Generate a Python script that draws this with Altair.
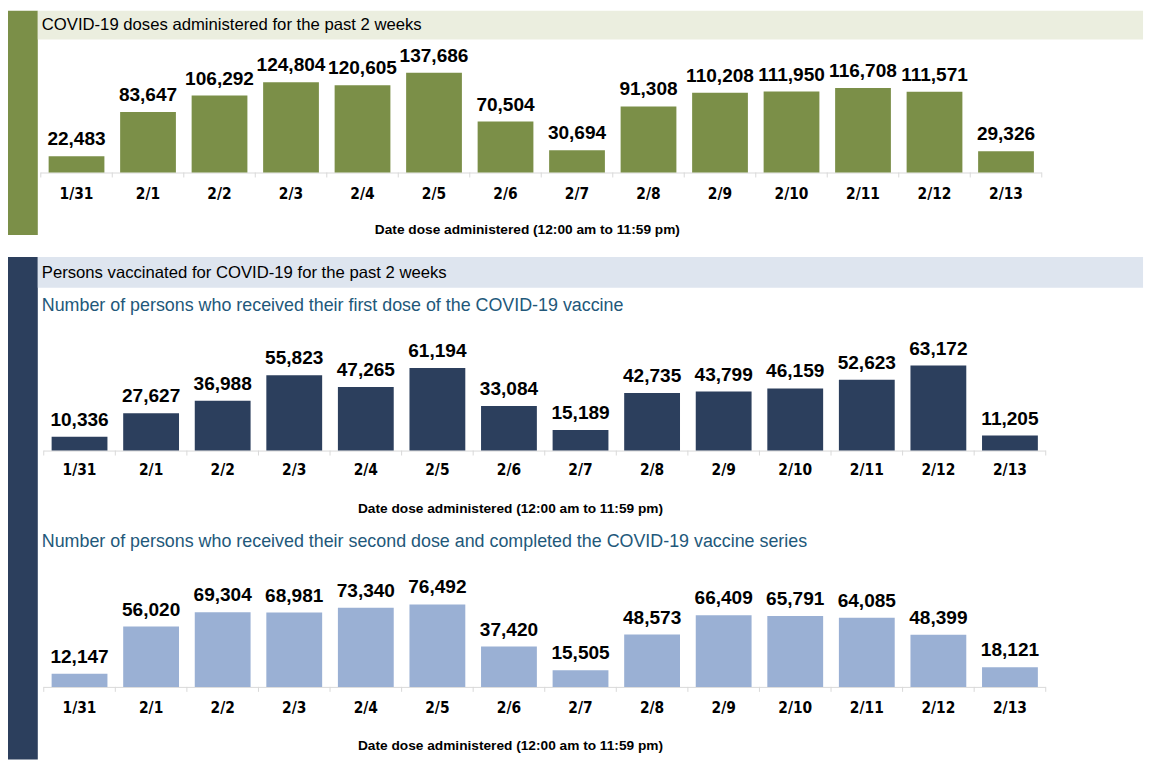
import altair as alt
import pandas as pd

# ---------------- data ----------------
dates = ["1/31", "2/1", "2/2", "2/3", "2/4", "2/5", "2/6", "2/7",
         "2/8", "2/9", "2/10", "2/11", "2/12", "2/13"]
doses = [22483, 83647, 106292, 124804, 120605, 137686, 70504, 30694,
         91308, 110208, 111950, 116708, 111571, 29326]
first_dose = [10336, 27627, 36988, 55823, 47265, 61194, 33084, 15189,
              42735, 43799, 46159, 52623, 63172, 11205]
second_dose = [12147, 56020, 69304, 68981, 73340, 76492, 37420, 15505,
               48573, 66409, 65791, 64085, 48399, 18121]

header1 = ["COVID-19 doses administered for the past 2 weeks"]
header2 = ["Persons vaccinated for COVID-19 for the past 2 weeks"]
sub1 = ["Number of persons who received their first dose of the COVID-19 vaccine"]
sub2 = ["Number of persons who received their second dose and completed the COVID-19 vaccine series"]
axis_title = ["Date dose administered (12:00 am to 11:59 pm)"]

# ---------------- style ----------------
GREEN = "#7b8f48"
GREEN_BAND = "#ebeedf"
NAVY = "#2c3f5d"
BLUE_BAND = "#dee5ef"
LIGHT_BLUE = "#9ab0d4"
SUB_COLOR = "#22587a"
AXIS_GRAY = "#d9d9d9"

SANS = "Liberation Sans, Arial, sans-serif"
TICKF = "DejaVu Sans Condensed, DejaVu Sans, sans-serif"

W, H = 1150, 760
one = pd.DataFrame({"a": [0]})


def rect(x, x2, y, y2, color):
    return alt.Chart(one).mark_rect(color=color).encode(
        x=alt.value(x), x2=alt.value(x2), y=alt.value(y), y2=alt.value(y2))


def label(texts, x, y, size, color="black", weight="normal", font=SANS, align="left"):
    return alt.Chart(pd.DataFrame({"t": texts})).mark_text(
        align=align, baseline="middle", fontSize=size, fontWeight=weight,
        font=font, color=color).encode(
        text="t:N", x=alt.value(x), y=alt.value(y))


def panel(values, color, x0, x1, base, top, tick_y, title_y, title_x):
    df = pd.DataFrame({
        "date": dates,
        "value": values,
        "label": [f"{v:,}" for v in values],
    })
    xs = alt.Scale(domain=dates, range=[x0, x1], paddingInner=0.22, paddingOuter=0.11)
    ys = alt.Scale(domain=[0, max(values)], range=[base, top], nice=False, zero=True)
    X = alt.X("date:N", scale=xs, axis=None, sort=dates)
    Y = alt.Y("value:Q", scale=ys, axis=None)

    bars = alt.Chart(df).mark_bar(color=color).encode(x=X, y=Y)
    vals = alt.Chart(df).mark_text(
        baseline="alphabetic", dy=-11, fontSize=19.2, fontWeight="bold",
        font=SANS, color="black").encode(x=X, y=Y, text="label:N")
    ticklabels = alt.Chart(df).mark_text(
        baseline="middle", fontSize=15.5, fontWeight="bold", font=TICKF,
        color="black").encode(x=X, y=alt.value(tick_y), text="date:N")
    axis_line = alt.Chart(one).mark_rule(color=AXIS_GRAY, strokeWidth=1).encode(
        x=alt.value(x0), x2=alt.value(x1), y=alt.value(base + 0.5))
    edges = pd.DataFrame({"i": list(range(len(dates) + 1))})
    ticks = alt.Chart(edges).mark_rule(color=AXIS_GRAY, strokeWidth=1).encode(
        x=alt.X("i:Q", scale=alt.Scale(domain=[0, len(dates)], range=[x0, x1]), axis=None),
        y=alt.value(base), y2=alt.value(base + 5))
    title = label(axis_title, title_x, title_y, 13.8, weight="bold", font=SANS, align="center")
    return [axis_line, ticks, bars, vals, ticklabels, title]


layers = []
# panel 1 decorations
layers += [rect(0, 30, 0, 226, GREEN), rect(30, 1143, 0, 29, GREEN_BAND),
           label(header1, 34, 14, 16.8)]
# panel 2/3 decorations
layers += [rect(0, 30, 248, 754, NAVY), rect(30, 1143, 248, 279, BLUE_BAND),
           label(header2, 34, 264, 16.8),
           label(sub1, 34, 297, 18, color=SUB_COLOR),
           label(sub2, 34, 535, 18, color=SUB_COLOR)]

layers += panel(doses, GREEN, 33, 1041, 163, 62.6, 185, 221, 523)
layers += panel(first_dose, NAVY, 36, 1045, 443, 357.3, 463, 502, 506)
layers += panel(second_dose, LIGHT_BLUE, 36, 1045, 681, 597.9, 702, 741, 506)

chart = alt.layer(*layers).resolve_scale(
    x="independent", y="independent"
).properties(
    width=W, height=H, padding=0, autosize=alt.AutoSizeParams(type="none"),
    background="white"
).configure_view(stroke=None)

chart.save("out.html", embed_options={"renderer": "svg", "actions": False})
